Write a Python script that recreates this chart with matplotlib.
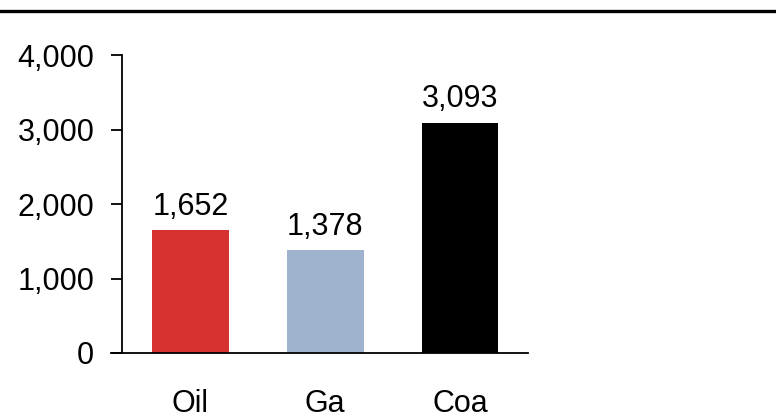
import matplotlib.pyplot as plt
from matplotlib.lines import Line2D
from matplotlib.ticker import FuncFormatter

plt.rcParams['font.family'] = ['Liberation Sans', 'DejaVu Sans']

categories = ['Oil', 'Ga', 'Coa']
values = [1652, 1378, 3093]
colors = ['#D63330', '#9FB2CE', '#000000']
yticks = [0, 1000, 2000, 3000, 4000]

W, H = 776, 418
fig = plt.figure(figsize=(W / 100, H / 100), dpi=100)
ax = fig.add_axes([111 / W, (H - 353) / H, (528 - 111) / W, (353 - 55) / H])

x = range(len(categories))
bars = ax.bar(x, values, width=0.57, color=colors)
for b, v in zip(bars, values):
    ax.annotate(f'{v:,}', (b.get_x() + b.get_width() / 2, v),
                xytext=(0, 6), textcoords='offset points',
                ha='center', va='bottom', fontsize=22)

ax.set_xlim(-0.589, 2.504)
ax.set_ylim(0, 4000)
ax.set_yticks(yticks)
ax.yaxis.set_major_formatter(FuncFormatter(lambda v, p: f'{int(v):,}'))
ax.set_xticks(list(x))
ax.set_xticklabels(categories)

for s in ['top', 'right']:
    ax.spines[s].set_visible(False)
ax.spines['left'].set_position(('data', -0.507))
ax.spines['left'].set_linewidth(1.3)
ax.spines['bottom'].set_linewidth(1.3)
ax.tick_params(axis='y', length=8, width=1.3, labelsize=22, pad=12)
ax.tick_params(axis='x', length=0, labelsize=22, pad=26)

# rule across the top of the figure
fig.add_artist(Line2D([0, 1], [1 - 11 / H, 1 - 11 / H], color='black', lw=2.4,
                      transform=fig.transFigure))

fig.savefig('out.png', dpi=100)
